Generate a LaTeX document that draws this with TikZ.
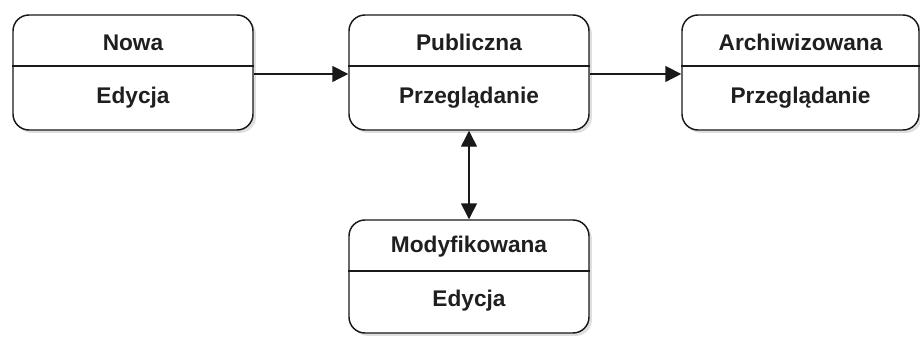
\documentclass[tikz,border=0pt]{standalone}
\usepackage{fontspec}
\setmainfont{Liberation Sans}
\usetikzlibrary{arrows.meta,shadows}
\begin{document}
\begin{tikzpicture}[x=0.75pt,y=-0.75pt,
  statebox/.style={draw=black!90, line width=1.1pt, rounded corners=12pt, fill=white,
    minimum width=180pt, minimum height=86.25pt, inner sep=0pt,
    drop shadow={shadow xshift=2.2pt, shadow yshift=-2.2pt, opacity=0.25}},
  divider/.style={draw=black!90, line width=1.1pt},
  txt/.style={font=\bfseries\fontsize{17}{20}\selectfont, text=black!88, inner sep=0pt, anchor=base},
  conn/.style={line width=1.1pt, draw=black!90, -{Triangle[length=12pt,width=12pt]}},
  biconn/.style={line width=1.1pt, draw=black!90, {Triangle[length=12pt,width=12pt]}-{Triangle[length=12pt,width=12pt]}}]
\useasboundingbox (0,0) rectangle (920,336);

% boxes
\node[statebox] (nowa) at (133,72.5) {};
\node[statebox] (pub) at (469,72.5) {};
\node[statebox, minimum width=177.75pt] (arch) at (800.5,72.5) {};
\node[statebox, minimum height=84.75pt] (mod) at (469,276.5) {};

% dividers
\draw[divider] (nowa.west |- 0,66) -- (nowa.east |- 0,66);
\draw[divider] (pub.west |- 0,66) -- (pub.east |- 0,66);
\draw[divider] (arch.west |- 0,66) -- (arch.east |- 0,66);
\draw[divider] (mod.west |- 0,271) -- (mod.east |- 0,271);

% texts
\node[txt] (nowaT) at (133,50) {Nowa};
\node[txt] (nowaB) at (133,103) {Edycja};
\node[txt] (pubT) at (469,50) {Publiczna};
\node[txt] (pubB) at (469,103) {Przeglądanie};
\node[txt] (archT) at (800.5,50) {Archiwizowana};
\node[txt] (archB) at (800.5,103) {Przeglądanie};
\node[txt] (modT) at (469,252.7) {Modyfikowana};
\node[txt] (modB) at (469,306.7) {Edycja};

% connectors
\draw[conn] ([yshift=-1.1pt]nowa.east) -- ([yshift=-1.1pt]pub.west);
\draw[conn] ([yshift=-1.1pt]pub.east) -- ([yshift=-1.1pt]arch.west);
\draw[biconn] (pub.south) -- (mod.north);
\end{tikzpicture}
\end{document}
